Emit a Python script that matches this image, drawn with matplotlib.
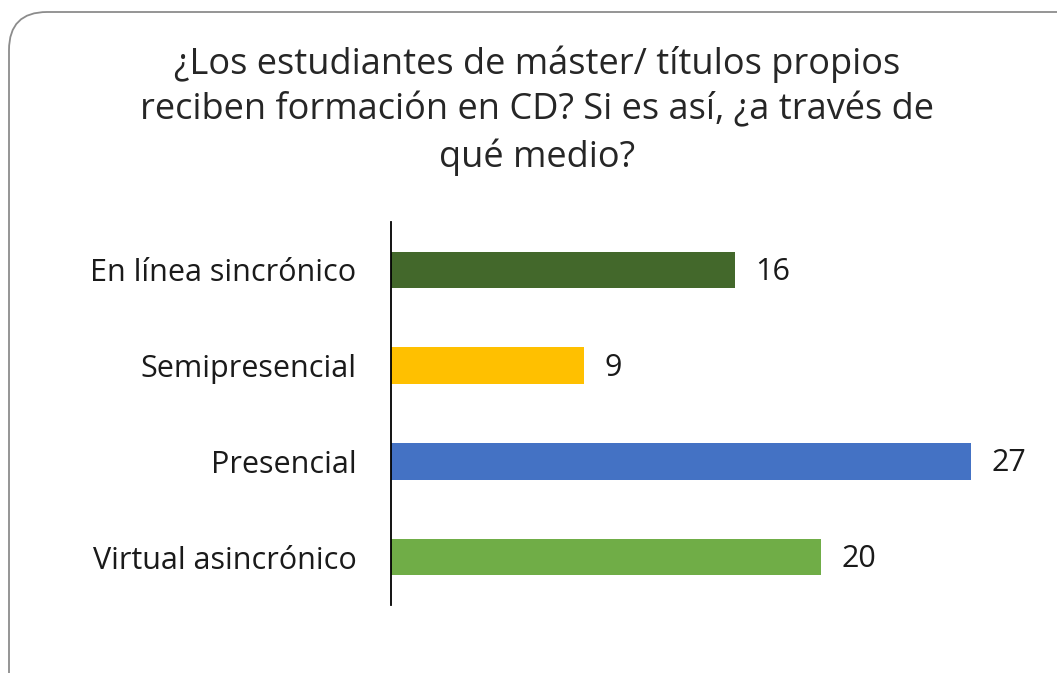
import matplotlib
matplotlib.use("Agg")
import matplotlib.pyplot as plt
from matplotlib.patches import FancyBboxPatch

categories = ["En línea sincrónico", "Semipresencial", "Presencial", "Virtual asincrónico"]
values = [16, 9, 27, 20]
colors = ["#43682b", "#ffc000", "#4472c4", "#70ad47"]
title = "¿Los estudiantes de máster/ títulos propios\nreciben formación en CD? Si es así, ¿a través de\nqué medio?"

W, H = 1057, 673
fig = plt.figure(figsize=(W / 100, H / 100), dpi=100)
plt.rcParams['font.family'] = ['Open Sans', 'DejaVu Sans']

# background frame axes in pixel coords
bg = fig.add_axes([0, 0, 1, 1])
bg.set_xlim(0, W)
bg.set_ylim(H, 0)
bg.axis("off")
frame = FancyBboxPatch((9, 12), 1200, 800, boxstyle="round,pad=0,rounding_size=38",
                       facecolor="white", edgecolor="#8c8c8c", linewidth=1.3)
bg.add_patch(frame)
bg.text(537, 111, title, ha="center", va="center", fontsize=26,
        color="#262626", linespacing=1.34)

# main axes: x from 391 px, y from 222 to 605 px
x0, x1 = 391, 391 + 30 * (971 - 391) / 27
y_top, y_bot = 222, 605
ax = fig.add_axes([x0 / W, 1 - y_bot / H, (x1 - x0) / W, (y_bot - y_top) / H])
ax.set_facecolor("none")
pos = list(range(len(categories)))
ax.barh(pos, values, height=0.38, color=colors)
ax.set_ylim(len(categories) - 0.5, -0.5)
ax.set_xlim(0, 30)
ax.set_yticks(pos)
ax.set_yticklabels(categories, fontsize=22, color="#1a1a1a")
ax.tick_params(axis="y", length=0, pad=25)
ax.set_xticks([])
for s in ["top", "right", "bottom"]:
    ax.spines[s].set_visible(False)
ax.spines["left"].set_linewidth(1.3)
ax.spines["left"].set_color("black")
for p, v in zip(pos, values):
    ax.text(v + 0.95, p + 0.02, str(v), va="center", ha="left", fontsize=22, color="#1a1a1a")

fig.savefig("out.png", dpi=100)
